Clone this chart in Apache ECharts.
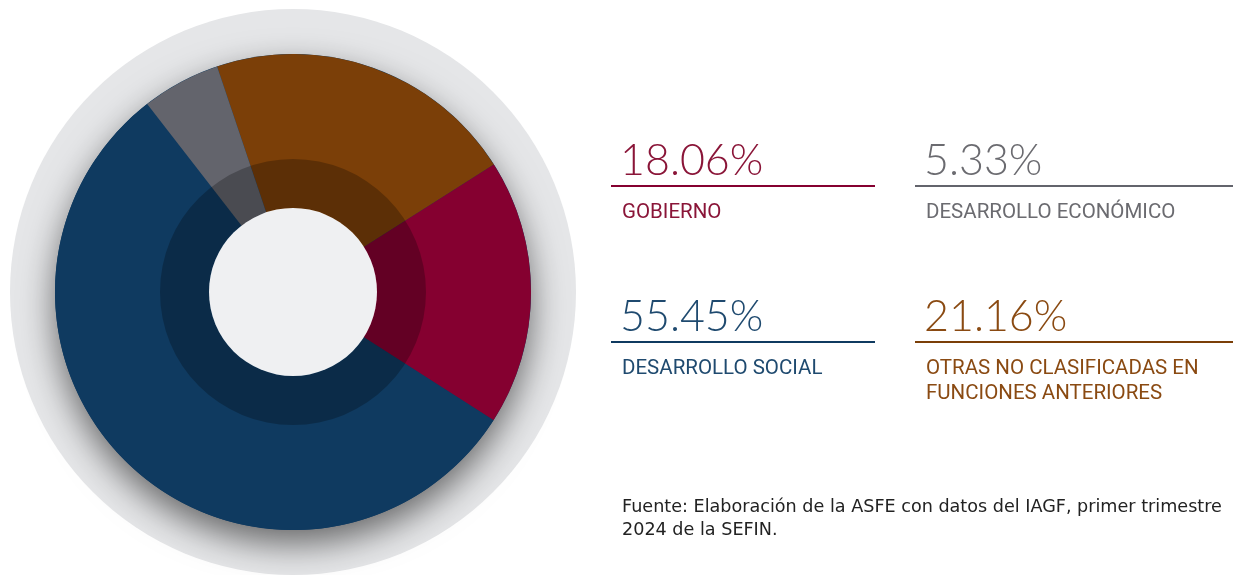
<!DOCTYPE html>
<html>
<head>
<meta charset="utf-8">
<script src="https://cdn.jsdelivr.net/npm/echarts@6/dist/echarts.min.js"></script>
<style>
  html, body { margin: 0; padding: 0; background: #fff; }
  #main { width: 1233px; height: 575px; }
</style>
</head>
<body>
<div id="main"></div>
<script>
// data, in the order of the text panels on the right
const categories = ['GOBIERNO', 'DESARROLLO ECONÓMICO', 'DESARROLLO SOCIAL', 'OTRAS NO CLASIFICADAS EN\nFUNCIONES ANTERIORES'];
const values = [18.06, 5.33, 55.45, 21.16];
const sliceColors = ['#850030', '#63646c', '#0f3a60', '#7b3f08'];
const textColors = ['#8a1538', '#6b6b70', '#1f4a6f', '#8a4a12'];
// order of the slices clockwise, starting just left of 12 o'clock
const pieOrder = [3, 0, 2, 1];
const source = 'Fuente: Elaboración de la ASFE con datos del IAGF, primer trimestre\n2024 de la SEFIN.';

const chart = echarts.init(document.getElementById('main'), null, { renderer: 'canvas' });

const center = [293, 292];
const numFont = '300 43px Lato, sans-serif';
const labelFont = '20.5px Roboto, sans-serif';

// panels on the right: [x of line, x of text, y of line, width of line]
const panels = [
  [611, 622, 186, 264],
  [915, 926, 186, 330],
  [611, 622, 342, 264],
  [915, 926, 342, 330]
];

const graphic = [];
panels.forEach((p, i) => {
  graphic.push({
    type: 'text', z: 100,
    style: { x: p[1] - 2, y: p[2] - 25, text: values[i].toFixed(2) + '%', font: numFont, fill: textColors[i], verticalAlign: 'middle' }
  });
  graphic.push({
    type: 'rect', z: 100,
    shape: { x: p[0], y: p[2] - 1, width: p[3], height: 2 },
    style: { fill: sliceColors[i] }
  });
  graphic.push({
    type: 'text', z: 100,
    style: { x: p[1], y: p[2] + 14, text: categories[i], font: labelFont, lineHeight: 25, fill: textColors[i], verticalAlign: 'top' }
  });
});
graphic.push({
  type: 'text', z: 100,
  style: { x: 622, y: 496, text: source, font: '17.6px "DejaVu Sans", sans-serif', lineHeight: 23, fill: '#222', verticalAlign: 'top' }
});

const flat = { label: { show: false }, labelLine: { show: false }, emphasis: { disabled: true }, silent: true, animation: false, center: center };

chart.setOption({
  backgroundColor: '#fff',
  graphic: graphic,
  series: [
    Object.assign({ type: 'pie', radius: [0, 283], z: 1, data: [{ value: 1, itemStyle: { color: '#e5e6e8' } }] }, flat),
    Object.assign({ type: 'pie', radius: [0, 238], z: 2, data: [{ value: 1, itemStyle: { color: '#0f3a60', shadowBlur: 34, shadowOffsetY: 14, shadowColor: 'rgba(0,0,0,0.55)' } }] }, flat),
    Object.assign({
      type: 'pie', radius: [0, 238], z: 3, startAngle: 108.6,
      data: pieOrder.map(i => ({ name: categories[i], value: values[i], itemStyle: { color: sliceColors[i] } }))
    }, flat),
    Object.assign({ type: 'pie', radius: [84, 133], z: 4, data: [{ value: 1, itemStyle: { color: 'rgba(0,0,0,0.25)' } }] }, flat),
    Object.assign({ type: 'pie', radius: [0, 84], z: 5, data: [{ value: 1, itemStyle: { color: '#eff0f2' } }] }, flat)
  ]
});
</script>
</body>
</html>
